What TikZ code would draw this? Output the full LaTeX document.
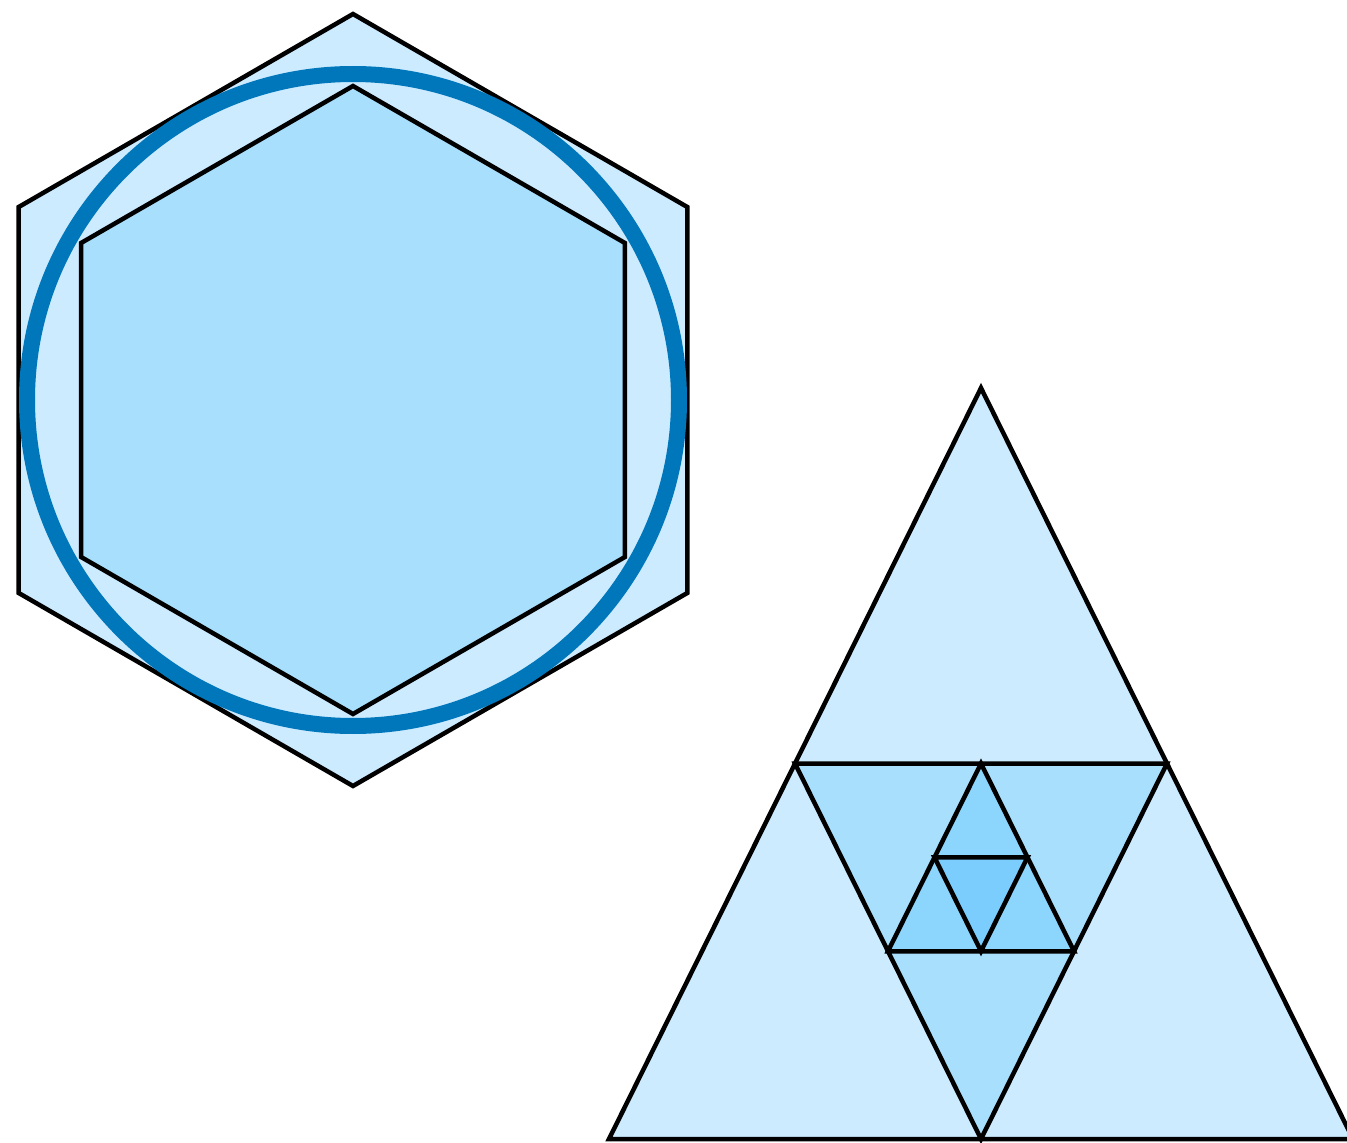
\documentclass[tikz,border=0pt]{standalone}
\usetikzlibrary{calc}
\definecolor{pale}{HTML}{CCEBFF}
\definecolor{mid}{HTML}{A8DFFC}
\definecolor{deep}{HTML}{8CD5FC}
\definecolor{deepest}{HTML}{7ACDFC}
\definecolor{ring}{HTML}{0077BB}
\begin{document}
\begin{tikzpicture}[line width=0.045cm, line join=miter]
    % Frame
    \clip (0,0) rectangle (13.47,11.42);
    \useasboundingbox (0,0) rectangle (13.47,11.42);
    % Hexagons and circle
    \coordinate (O) at (3.53,7.42);
    \draw[fill=pale] (O) ++(90:3.86) -- ++(-30:3.86) -- ++(-90:3.86) -- ++(-150:3.86) -- ++(150:3.86) -- ++(90:3.86) -- cycle;
    \draw[fill=mid] (O) ++(90:3.14) -- ++(-30:3.14) -- ++(-90:3.14) -- ++(-150:3.14) -- ++(150:3.14) -- ++(90:3.14) -- cycle;
    \draw[ring, line width=0.16cm] (O) circle (3.26);
    % Triangle corners
    \coordinate (A) at (9.81,7.54);
    \coordinate (B) at (6.09,0.03);
    \coordinate (C) at (13.53,0.03);
    % Midpoints
    \coordinate (AB) at ($(A)!0.5!(B)$);
    \coordinate (AC) at ($(A)!0.5!(C)$);
    \coordinate (BC) at ($(B)!0.5!(C)$);
    \coordinate (P) at ($(AB)!0.5!(AC)$);
    \coordinate (Q) at ($(AB)!0.5!(BC)$);
    \coordinate (R) at ($(AC)!0.5!(BC)$);
    \coordinate (PQ) at ($(P)!0.5!(Q)$);
    \coordinate (PR) at ($(P)!0.5!(R)$);
    \coordinate (QR) at ($(Q)!0.5!(R)$);
    % Nested triangles
    \draw[fill=pale] (A) -- (B) -- (C) -- cycle;
    \draw[fill=mid] (AB) -- (AC) -- (BC) -- cycle;
    \draw[fill=deep] (P) -- (Q) -- (R) -- cycle;
    \draw[fill=deepest] (PQ) -- (PR) -- (QR) -- cycle;
\end{tikzpicture}
\end{document}
